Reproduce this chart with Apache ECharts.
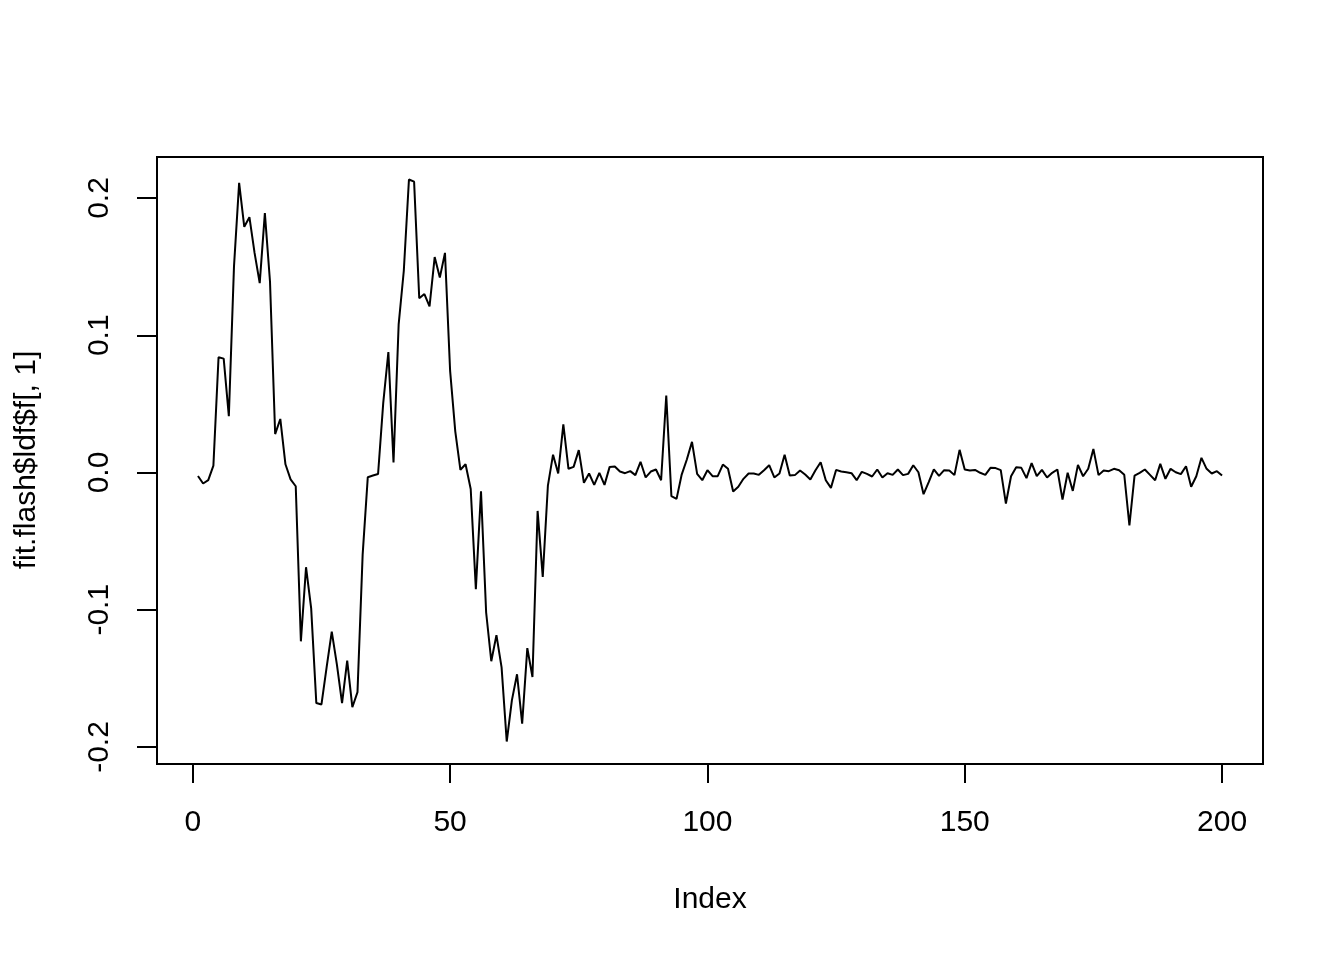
<!DOCTYPE html>
<html>
<head>
<meta charset="utf-8">
<script src="https://cdn.jsdelivr.net/npm/echarts@6/dist/echarts.min.js"></script>
<style>html,body{margin:0;padding:0;background:#fff;}#c{width:1344px;height:960px;}</style>
</head>
<body>
<div id="c"></div>
<script>
// Series values f[,1] for Index 1..200
const values = [
  -0.0025, -0.008, -0.0056, 0.005, 0.084, 0.083, 0.041, 0.15, 0.211, 0.179,
  0.186, 0.16, 0.138, 0.189, 0.139, 0.028, 0.039, 0.006, -0.005, -0.010,
  -0.123, -0.069, -0.099, -0.168, -0.169, -0.142, -0.116, -0.140, -0.168, -0.137,
  -0.171, -0.160, -0.060, -0.0034, -0.0022, -0.0011, 0.0506, 0.0878, 0.0073, 0.108,
  0.147, 0.2135, 0.2119, 0.127, 0.130, 0.121, 0.157, 0.142, 0.160, 0.074,
  0.030, 0.002, 0.006, -0.012, -0.085, -0.0137, -0.102, -0.1375, -0.1185, -0.142,
  -0.196, -0.166, -0.147, -0.183, -0.128, -0.149, -0.028, -0.076, -0.0095, 0.013,
  -0.0007, 0.035, 0.0027, 0.0041, 0.0163, -0.0075, -0.0007, -0.009, -0.0002, -0.009,
  0.0041, 0.0044, 0.0007, -0.0005, 0.001, -0.0019, 0.0078, -0.0036, 0.0007, 0.0022,
  -0.0056, 0.0561, -0.0172, -0.0192, -0.0015, 0.0095, 0.0223, -0.001, -0.0056, 0.0017,
  -0.0027, -0.0027, 0.0058, 0.0027, -0.0138, -0.0104, -0.0046, -0.0007, -0.0007, -0.0017,
  0.0017, 0.0053, -0.0036, -0.0007, 0.0129, -0.0022, -0.0019, 0.0015, -0.0015, -0.0051,
  0.0017, 0.0075, -0.0056, -0.0112, 0.0019, 0.0007, 0.0002, -0.0005, -0.0056, 0.0005,
  -0.001, -0.0029, 0.0022, -0.0036, -0.0005, -0.0017, 0.0022, -0.0019, -0.001, 0.0053,
  0.0002, -0.0158, -0.007, 0.0022, -0.0024, 0.0017, 0.0015, -0.0019, 0.0165, 0.0022,
  0.0015, 0.0019, -0.0002, -0.0017, 0.0034, 0.0032, 0.0017, -0.0226, -0.0027, 0.0039,
  0.0034, -0.0041, 0.0068, -0.0027, 0.0019, -0.0036, -0.0002, 0.0022, -0.0197, -0.0002,
  -0.0134, 0.0056, -0.0027, 0.0027, 0.0172, -0.0019, 0.0015, 0.001, 0.0027, 0.0017,
  -0.0017, -0.0386, -0.0022, -0.0002, 0.0022, -0.0017, -0.0056, 0.0063, -0.0046, 0.0027,
  0.0002, -0.0012, 0.0046, -0.0104, -0.0027, 0.0107, 0.0027, -0.0007, 0.001, -0.0022
];
const xTicks = [0, 50, 100, 150, 200];
const yTicks = [-0.2, -0.1, 0.0, 0.1, 0.2];
const xTitle = 'Index';
const yTitle = 'fit.flash$ldf$f[, 1]';

const FONT = '"Liberation Sans", Arial, Helvetica, sans-serif';
const n = values.length;
const pts = values.map((v, i) => [i + 1, v]);
const ymin = Math.min(...values), ymax = Math.max(...values);
const yPad = (ymax - ymin) * 0.04, xPad = (n - 1) * 0.04;

const chart = echarts.init(document.getElementById('c'), null, {renderer: 'canvas'});
chart.setOption({
  animation: false,
  backgroundColor: '#ffffff',
  grid: {left: 157, top: 157, right: 81, bottom: 196, show: true, borderColor: '#000', borderWidth: 2, backgroundColor: 'transparent'},
  xAxis: {
    type: 'value', min: 1 - xPad, max: n + xPad, position: 'bottom',
    axisLine: {show: false, onZero: false},
    splitLine: {show: false},
    axisTick: {show: true, customValues: xTicks, length: 19, lineStyle: {color: '#000', width: 2}},
    axisLabel: {show: true, customValues: xTicks, fontSize: 30, fontFamily: FONT, color: '#000', margin: 44,
      formatter: v => String(v)}
  },
  yAxis: {
    type: 'value', min: ymin - yPad, max: ymax + yPad, position: 'left',
    axisLine: {show: false, onZero: false},
    splitLine: {show: false},
    axisTick: {show: true, customValues: yTicks, length: 20, lineStyle: {color: '#000', width: 2}},
    axisLabel: {show: true, customValues: yTicks, fontSize: 30, fontFamily: FONT, color: '#000', margin: 42, rotate: 90,
      formatter: v => (Math.abs(v) < 1e-9 ? 0 : v).toFixed(1)}
  },
  graphic: [
    {type: 'text', x: 710, y: 900, style: {text: xTitle, font: '30px ' + FONT, fill: '#000', align: 'center', verticalAlign: 'middle'}},
    {type: 'text', x: 27, y: 460, rotation: Math.PI / 2, style: {text: yTitle, font: '30px ' + FONT, fill: '#000', align: 'center', verticalAlign: 'middle'}}
  ],
  series: [{
    type: 'line', data: pts, showSymbol: false, symbol: 'none',
    lineStyle: {color: '#000', width: 2}, itemStyle: {color: '#000'}
  }]
});
</script>
</body>
</html>
